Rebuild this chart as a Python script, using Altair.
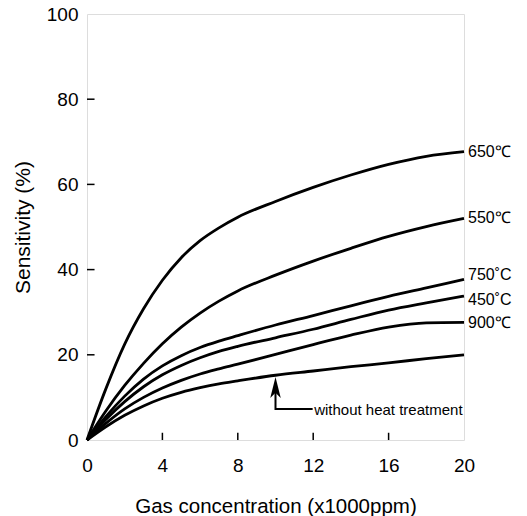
import altair as alt
import pandas as pd

# Gas concentration (x1000 ppm)
conc = [0, 1, 2, 3, 4, 5, 6, 7, 8, 10, 12, 14, 16, 18, 20]

# Sensitivity (%) per heat-treatment temperature
s650 = [0, 12, 22.5, 30.8, 37.5, 42.8, 46.8, 49.8, 52.3, 56, 59.3, 62.2, 64.7, 66.6, 67.7]
s550 = [0, 6.8, 12.8, 18, 22.6, 26.5, 29.8, 32.6, 35, 38.7, 42, 45, 47.8, 50.1, 52]
s750 = [0, 5.5, 10.3, 14.3, 17.4, 19.8, 21.7, 23.2, 24.5, 27, 29.2, 31.5, 33.7, 35.7, 37.7]
s450 = [0, 4.8, 9, 12.5, 15.3, 17.5, 19.3, 20.8, 22, 24, 26, 28.3, 30.5, 32.2, 33.8]
s900 = [0, 3.9, 7.3, 10, 12.2, 14, 15.5, 16.7, 17.8, 20.1, 22.4, 24.6, 26.5, 27.5, 27.6]
s_none = [0, 3.1, 5.8, 8, 9.8, 11.2, 12.3, 13.2, 13.9, 15.2, 16.2, 17.2, 18.1, 19.1, 20]

series_names = ["650℃", "550℃", "750˚C", "450˚C", "900℃", "without heat treatment"]
series_vals = [s650, s550, s750, s450, s900, s_none]

# end labels (right side)
label_text = ["650℃", "550℃", "750˚C", "450˚C", "900℃"]
label_y = [67.7, 52, 38.8, 32.9, 27.5]

# axis ticks
x_ticks = [0, 4, 8, 12, 16, 20]
y_ticks = [0, 20, 40, 60, 80, 100]
x_inner_ticks = [4, 8, 12, 16]
y_inner_ticks = [20, 40, 60, 80]

# annotation arrow (data coordinates)
arrow_x = [10, 10, 11.97]
arrow_y = [12.5, 7.3, 7.3]
arrow_head_x = [10]
arrow_head_y = [12.3]
note_x = [12.05]
note_y = [7.1]
note_text = ["without heat treatment"]

rows = []
for name, vals in zip(series_names, series_vals):
    for c, v in zip(conc, vals):
        rows.append({"series": name, "conc": c, "sens": v})
df = pd.DataFrame(rows)

xscale = alt.Scale(domain=[0, 20], nice=False, zero=False)
yscale = alt.Scale(domain=[0, 100], nice=False)

FONT = "Liberation Sans"

xaxis = alt.Axis(values=x_ticks, ticks=False, domain=False, grid=False,
                 labelFontSize=19, labelFont=FONT, labelColor="black",
                 labelPadding=16, title="Gas concentration (x1000ppm)",
                 titleFontSize=20.5, titleFont=FONT, titleFontWeight="normal",
                 titleColor="black", titlePadding=21, labelFlush=False)
yaxis = alt.Axis(values=y_ticks, ticks=False, domain=False, grid=False,
                 labelFontSize=19, labelFont=FONT, labelColor="black",
                 labelPadding=9, title="Sensitivity (%)",
                 titleFontSize=21, titleFont=FONT, titleFontWeight="normal",
                 titleColor="black", titlePadding=13, labelFlush=False)

lines = alt.Chart(df).mark_line(color="black", strokeWidth=2.8,
                                interpolate="monotone").encode(
    x=alt.X("conc:Q", scale=xscale, axis=xaxis),
    y=alt.Y("sens:Q", scale=yscale, axis=yaxis),
    detail="series:N",
    order="conc:Q",
)

lab_df = pd.DataFrame({"x": [20] * len(label_text), "y": label_y, "t": label_text})
labels = alt.Chart(lab_df).mark_text(align="left", baseline="middle", dx=4,
                                     fontSize=16, font=FONT, color="black").encode(
    x=alt.X("x:Q", scale=xscale), y=alt.Y("y:Q", scale=yscale), text="t:N")

# inward tick marks drawn as short rules
xt_df = pd.DataFrame({"x": x_inner_ticks, "y0": [0] * 4, "y1": [1.7] * 4})
xticks = alt.Chart(xt_df).mark_rule(color="black", strokeWidth=1.5).encode(
    x=alt.X("x:Q", scale=xscale),
    y=alt.Y("y0:Q", scale=yscale), y2="y1:Q")
yt_df = pd.DataFrame({"y": y_inner_ticks, "x0": [0] * 4, "x1": [0.4] * 4})
yticks = alt.Chart(yt_df).mark_rule(color="black", strokeWidth=1.5).encode(
    y=alt.Y("y:Q", scale=yscale),
    x=alt.X("x0:Q", scale=xscale), x2="x1:Q")

arr_df = pd.DataFrame({"x": arrow_x, "y": arrow_y, "o": [0, 1, 2]})
arrow = alt.Chart(arr_df).mark_line(color="black", strokeWidth=2).encode(
    x=alt.X("x:Q", scale=xscale), y=alt.Y("y:Q", scale=yscale), order="o:Q")

head_df = pd.DataFrame({"x": arrow_head_x, "y": arrow_head_y})
head = alt.Chart(head_df).mark_point(
    shape="M0,-1 L0.5,1 L0,0.5 L-0.5,1 Z", size=441, filled=True,
    color="black", opacity=1).encode(
    x=alt.X("x:Q", scale=xscale), y=alt.Y("y:Q", scale=yscale))

note_df = pd.DataFrame({"x": note_x, "y": note_y, "t": note_text})
note = alt.Chart(note_df).mark_text(align="left", baseline="middle",
                                    fontSize=15, font=FONT, color="black").encode(
    x=alt.X("x:Q", scale=xscale), y=alt.Y("y:Q", scale=yscale), text="t:N")

chart = alt.layer(lines, xticks, yticks, arrow, head, note, labels).properties(
    width=377, height=426,
    autosize=alt.AutoSizeParams(type="none"),
    padding={"left": 87, "top": 14, "right": 63, "bottom": 76},
).configure_view(stroke="black", strokeWidth=1.5).configure(background="white")

chart.save("out.html", embed_options={"renderer": "svg", "actions": False})
